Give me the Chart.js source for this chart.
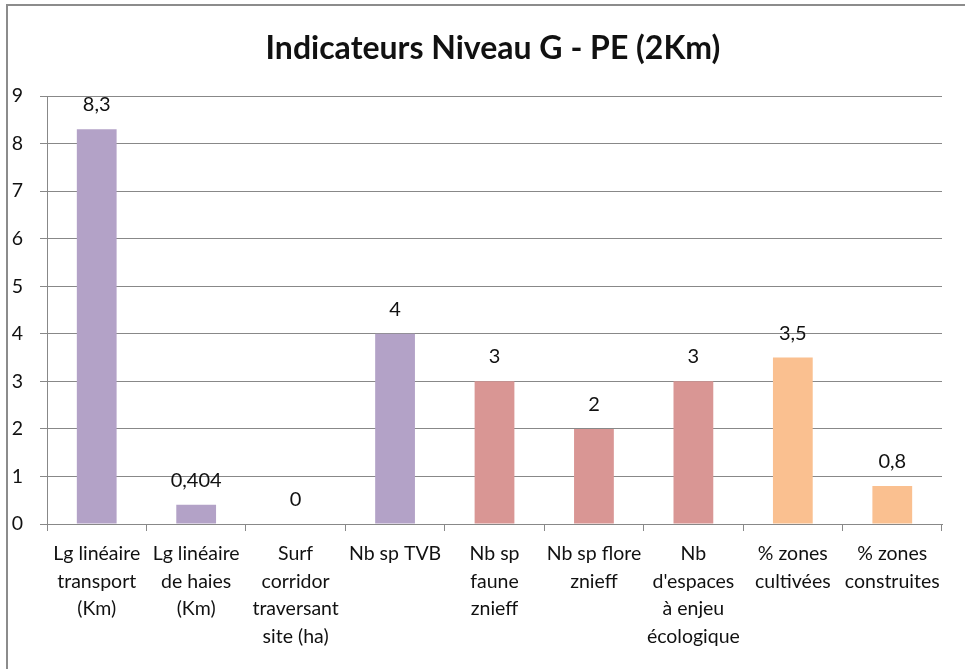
<!DOCTYPE html>
<html>
<head>
<meta charset="utf-8">
<title>Indicateurs Niveau G - PE (2Km)</title>
<script src="https://cdn.jsdelivr.net/npm/chart.js@4/dist/chart.umd.min.js"></script>
<style>
  html, body { margin: 0; padding: 0; background: #fff; }
  #wrap { width: 965px; height: 669px; position: relative; }
</style>
</head>
<body>
<div id="wrap"><canvas id="myChart" width="965" height="669"></canvas></div>
<script>
var titre = 'Indicateurs Niveau G - PE (2Km)';

var categories = [
  ['Lg linéaire', 'transport', '(Km)'],
  ['Lg linéaire', 'de haies', '(Km)'],
  ['Surf', 'corridor', 'traversant', 'site (ha)'],
  ['Nb sp TVB'],
  ['Nb sp', 'faune', 'znieff'],
  ['Nb sp flore', 'znieff'],
  ['Nb', "d'espaces", 'à enjeu', 'écologique'],
  ['% zones', 'cultivées'],
  ['% zones', 'construites']
];
var valeurs = [8.3, 0.404, 0, 4, 3, 2, 3, 3.5, 0.8];
var couleurs = ['#B3A2C7', '#B3A2C7', '#B3A2C7', '#B3A2C7',
                '#D99694', '#D99694', '#D99694',
                '#FAC090', '#FAC090'];
var yMin = 0;
var yMax = 9;

var police = 'Lato, "Open Sans", sans-serif';
var gris = '#888888';

// cadre, titre et valeurs au-dessus des barres
var decor = {
  id: 'decor',
  beforeDraw: function(chart) {
    var ctx = chart.ctx;
    ctx.save();
    ctx.strokeStyle = '#8c8c8c';
    ctx.lineWidth = 2;
    ctx.beginPath();
    ctx.moveTo(7, chart.height);
    ctx.lineTo(7, 5);
    ctx.lineTo(chart.width, 5);
    ctx.stroke();
    ctx.restore();
  },
  afterDatasetsDraw: function(chart) {
    var ctx = chart.ctx;
    ctx.save();
    ctx.fillStyle = '#111';
    ctx.textAlign = 'center';
    ctx.textBaseline = 'alphabetic';
    ctx.font = 'bold 32px ' + police;
    ctx.fillText(titre, 493, 59);

    ctx.font = '20px ' + police;
    var meta = chart.getDatasetMeta(0);
    meta.data.forEach(function(bar, i) {
      var txt = String(valeurs[i]).replace('.', ',');
      ctx.fillText(txt, bar.x, bar.y - 18);
    });
    ctx.restore();
  }
};

window.onload = function() {
  var ctx = document.getElementById('myChart').getContext('2d');
  window.myBar = new Chart(ctx, {
    type: 'bar',
    data: {
      labels: categories,
      datasets: [{
        data: valeurs,
        backgroundColor: couleurs,
        borderWidth: 0,
        barPercentage: 0.4,
        categoryPercentage: 1
      }]
    },
    options: {
      responsive: false,
      animation: false,
      layout: { padding: { top: 96, right: 23, left: 0, bottom: 0 } },
      plugins: {
        legend: { display: false },
        title: { display: false },
        tooltip: { enabled: false }
      },
      scales: {
        x: {
          grid: {
            offset: true,
            drawOnChartArea: false,
            drawTicks: true,
            tickLength: 7,
            color: gris
          },
          border: { color: gris, width: 1 },
          ticks: {
            color: '#111',
            padding: 9,
            maxRotation: 0,
            autoSkip: false,
            font: { family: police, size: 19.5, lineHeight: 1.41 }
          },
          afterFit: function(scale) { scale.height = 669 - 524; }
        },
        y: {
          min: yMin,
          max: yMax,
          grid: {
            color: gris,
            tickLength: 7
          },
          border: { color: gris, width: 1 },
          ticks: {
            stepSize: 1,
            color: '#111',
            padding: 17,
            font: { family: police, size: 19.5 }
          },
          afterFit: function(scale) { scale.width = 47; }
        }
      }
    },
    plugins: [decor]
  });
};
</script>
</body>
</html>
